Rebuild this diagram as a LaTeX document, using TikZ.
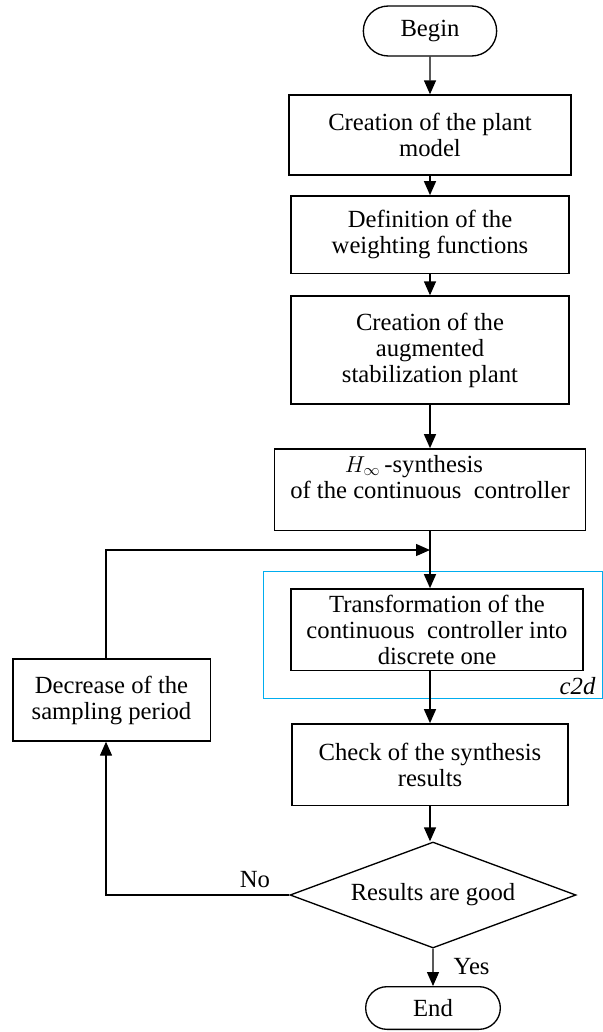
\documentclass[tikz,border=0pt]{standalone}
\usepackage{fontspec}
\setmainfont{Liberation Serif}
\usetikzlibrary{arrows.meta,shapes.geometric,shapes.misc}

\tikzset{every picture/.style={line width=1pt}}

\begin{document}
\begin{tikzpicture}[x=0.75pt,y=0.75pt,yscale=-1,xscale=1,
	font=\fontsize{18.5}{19.5}\selectfont,
	blk/.style={draw,align=center,inner sep=0pt},
	term/.style={draw,rounded rectangle,inner sep=0pt},
	arr/.style={-{Triangle[length=10.5pt,width=9pt]}}]
	\useasboundingbox (0,0) rectangle (603,1032);
	
	%Frame of c2d
	\draw [cyan,line width=0.6pt] (263,571) rectangle (602,698);
	
	% Terminals
	\node [term,minimum width=100pt,minimum height=37.5pt] (begin) at (430,31) {Begin};
	\node [term,minimum width=101pt,minimum height=32pt] (end) at (433,1008) {End};
	% Process blocks
	\node [blk,minimum width=211.5pt,minimum height=60pt] (plant) at (430,135) {Creation of the plant\\model};
	\node [blk,minimum width=208.5pt,minimum height=58pt] (weight) at (430,234.5) {Definition of the\\weighting functions};
	\node [blk,minimum width=208.5pt,minimum height=81pt] (augm) at (430,350) {Creation of the\\augmented\\stabilization plant};
	\node [blk,minimum width=233pt,minimum height=61pt] (hinf) at (430,489.5) {$H_{\infty}$\,-synthesis\rule{24pt}{0pt}\\of the continuous\ \ controller\\\mbox{}};
	\node [blk,minimum width=219pt,minimum height=61pt] (trans) at (437,629.5) {Transformation of the\\continuous\ \ controller into\\discrete one};
	\node [blk,minimum width=207pt,minimum height=61pt] (check) at (430,764.5) {Check of the synthesis\\results};
	\node [blk,minimum width=148pt,minimum height=61.5pt] (dec) at (111.5,700) {Decrease of the\\sampling period};
	% Decision
	\node [draw,diamond,aspect=2.7,minimum width=214.5pt,minimum height=79.5pt,inner sep=0pt] (test) at (433,895) {Results are good};
	
	% Text Node
	\node [anchor=west,inner sep=0.75pt] (yes) at (452,967) {Yes};
	% Text Node
	\node [inner sep=0.75pt] (no) at (255,880) {No};
	% Text Node
	\node [anchor=east,inner sep=0.75pt] (ctd) at (597,686) {\itshape c2d};
	
	\coordinate (join) at (430,550);
	\coordinate (cnrlow) at (106,895);
	\coordinate (cnrup) at (106,550);
	
	% Connectors
	\draw [arr] (begin) -- (plant);
	\draw [arr] (plant) -- (weight);
	\draw [arr] (weight) -- (augm);
	\draw [arr] (augm) -- (hinf);
	\draw (hinf) -- (join);
	\draw [arr] (join) -- (join |- trans.north);
	\draw [arr] (trans.south -| join) -- (join |- check.north);
	\draw [arr] (check) -- (check |- test.north);
	\draw [arr] (test) -- (end);
	\draw [arr] (test) -- (cnrlow) -- (cnrlow |- dec.south);
	\draw [arr] (cnrlow |- dec.north) -- (cnrup) -- (join);
	
\end{tikzpicture}
\end{document}
